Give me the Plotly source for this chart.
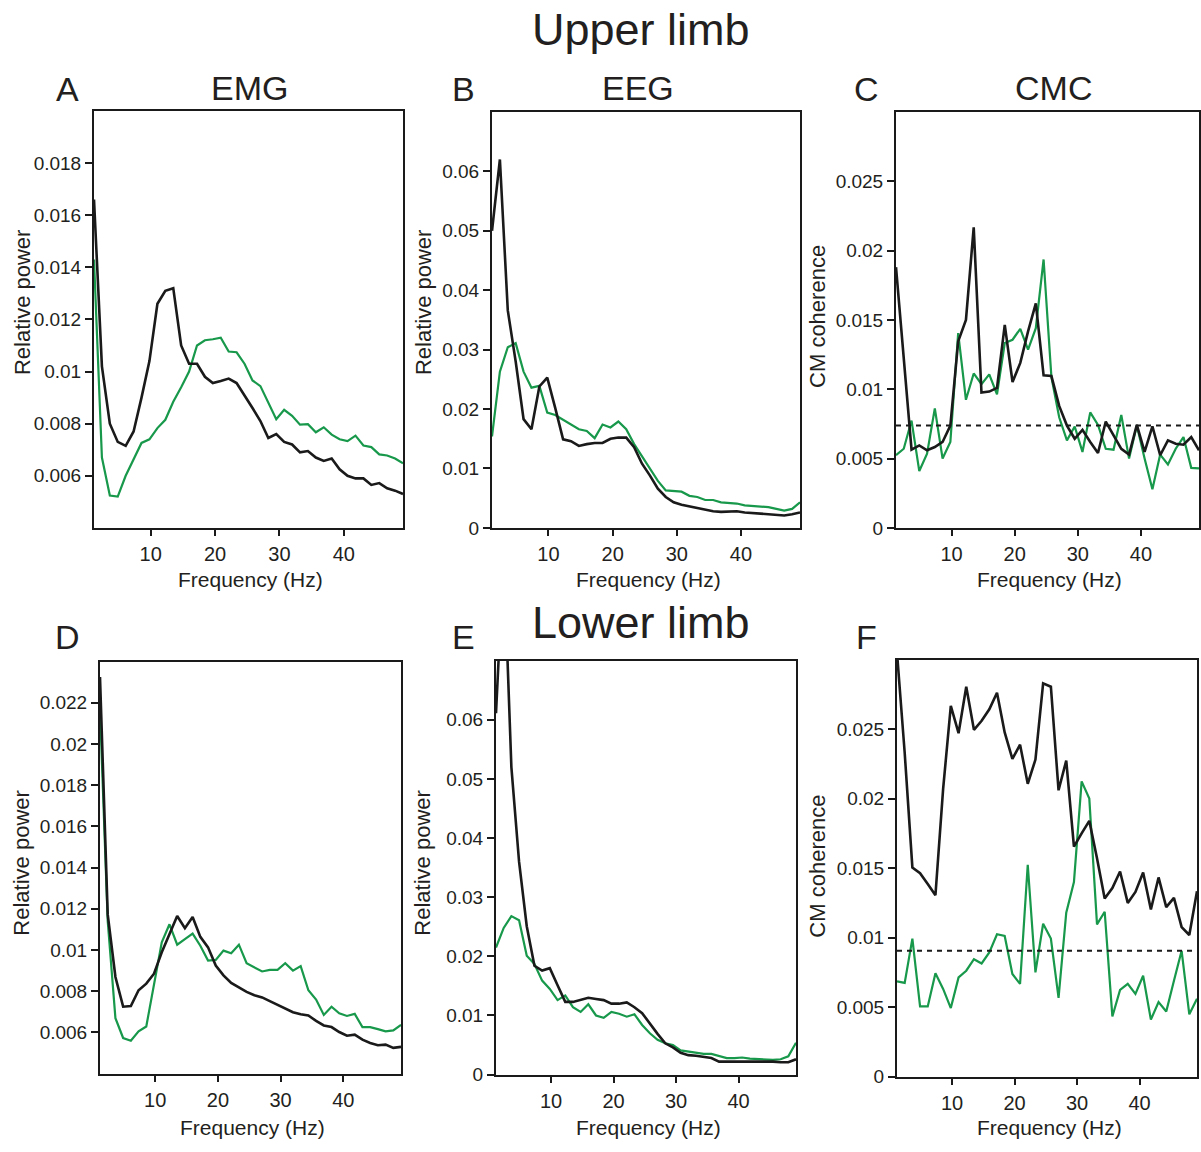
import plotly.graph_objects as go

W, H = 1201, 1152

freqs = [1.2, 2.43, 3.66, 4.89, 6.12, 7.35, 8.58, 9.81, 11.05, 12.28, 13.51, 14.74, 15.97, 17.2,
         18.43, 19.66, 20.89, 22.12, 23.35, 24.58, 25.82, 27.05, 28.28, 29.51, 30.74, 31.97, 33.2,
         34.43, 35.66, 36.89, 38.12, 39.35, 40.58, 41.82, 43.05, 44.28, 45.51, 46.74, 47.97, 49.2]

# Upper limb
emg_up_black = [0.0166, 0.0102, 0.0080, 0.0073, 0.00715, 0.0077, 0.0090, 0.0104, 0.0126, 0.0131,
                0.0132, 0.0110, 0.0103, 0.0103, 0.0098, 0.00956, 0.00964, 0.00973, 0.00956, 0.0091,
                0.0086, 0.0081, 0.00745, 0.0076, 0.0073, 0.0072, 0.0069, 0.00695, 0.0067, 0.00657,
                0.00666, 0.00625, 0.0060, 0.0059, 0.0059, 0.00565, 0.00572, 0.00552, 0.00543, 0.0053]
emg_up_green = [0.0143, 0.0067, 0.00524, 0.0052, 0.0060, 0.00663, 0.00726, 0.0074, 0.00783, 0.00815,
                0.00884, 0.0094, 0.0100, 0.0110, 0.0112, 0.01124, 0.0113, 0.01077, 0.01074, 0.0103,
                0.00966, 0.00944, 0.00878, 0.00817, 0.00853, 0.0083, 0.00796, 0.00798, 0.00767, 0.00786,
                0.00758, 0.0074, 0.00733, 0.00754, 0.00716, 0.0071, 0.00682, 0.00678, 0.00666, 0.00648]
eeg_up_black = [0.050, 0.062, 0.0366, 0.028, 0.0183, 0.0166, 0.0238, 0.0253, 0.0202, 0.0149,
                0.0146, 0.0138, 0.0141, 0.0143, 0.0143, 0.0150, 0.0152, 0.0152, 0.0136, 0.0108,
                0.0088, 0.0066, 0.0052, 0.0043, 0.0039, 0.0036, 0.0033, 0.0031, 0.0028, 0.0027,
                0.0027, 0.0028, 0.0026, 0.0025, 0.0024, 0.0024, 0.0023, 0.0021, 0.0023, 0.0026]
eeg_up_green = [0.0154, 0.0263, 0.0304, 0.0311, 0.0263, 0.0236, 0.0239, 0.0194, 0.019, 0.0182,
                0.0174, 0.0166, 0.0163, 0.0151, 0.0174, 0.0169, 0.0179, 0.0166, 0.0141, 0.0121,
                0.0099, 0.0079, 0.0063, 0.0062, 0.0061, 0.0054, 0.0052, 0.0047, 0.0047, 0.0043,
                0.0042, 0.0041, 0.0038, 0.0037, 0.0035, 0.0035, 0.0032, 0.0029, 0.0032, 0.0043]
cmc_up_black = [0.0188, 0.0119, 0.00564, 0.00595, 0.0056, 0.00583, 0.0062, 0.00738, 0.01345, 0.015,
                0.02167, 0.00976, 0.00983, 0.0101, 0.01464, 0.01052, 0.0119, 0.01417, 0.0162, 0.011,
                0.01095, 0.0088, 0.00738, 0.00643, 0.00707, 0.0062, 0.0054, 0.00767, 0.00667, 0.0057,
                0.00529, 0.00743, 0.00548, 0.00733, 0.00524, 0.00631, 0.00607, 0.006, 0.00655, 0.0056]
cmc_up_green = [0.00524, 0.00571, 0.00774, 0.0041, 0.00536, 0.00862, 0.005, 0.00619, 0.01405, 0.00924,
                0.01114, 0.01036, 0.01107, 0.00964, 0.01333, 0.01357, 0.01436, 0.01286, 0.0144, 0.01936,
                0.01088, 0.00798, 0.00631, 0.00731, 0.00548, 0.00833, 0.00743, 0.00571, 0.00564, 0.00814,
                0.005, 0.00738, 0.005, 0.00279, 0.00529, 0.00457, 0.00571, 0.00655, 0.00433, 0.00429]
cmc_up_sig = 0.00738

# Lower limb
emg_lo_black = [0.02325, 0.01173, 0.00869, 0.00725, 0.00728, 0.00805, 0.00837, 0.00885, 0.00989, 0.01077,
                0.01165, 0.01106, 0.0116, 0.01064, 0.01013, 0.00925, 0.00877, 0.0084, 0.0082, 0.00797,
                0.00781, 0.0077, 0.00752, 0.00733, 0.00717, 0.00698, 0.00688, 0.00682, 0.00656, 0.00634,
                0.00626, 0.00602, 0.00584, 0.00589, 0.00565, 0.00549, 0.00538, 0.00541, 0.00525, 0.0053]
emg_lo_green = [0.0217, 0.01141, 0.00669, 0.00573, 0.0056, 0.00605, 0.00629, 0.00829, 0.01037, 0.01125,
                0.01026, 0.01053, 0.0108, 0.01021, 0.00949, 0.00952, 0.00997, 0.00984, 0.01026, 0.00936,
                0.00917, 0.00896, 0.00904, 0.00904, 0.00936, 0.009, 0.00922, 0.00805, 0.0076, 0.00685,
                0.00725, 0.00693, 0.0068, 0.0069, 0.00626, 0.00626, 0.00616, 0.00605, 0.0061, 0.00637]
eeg_lo_black = [0.0611, 0.088, 0.052, 0.036, 0.0251, 0.0184, 0.0176, 0.018, 0.0151, 0.0123,
                0.0123, 0.0126, 0.013, 0.0128, 0.0126, 0.012, 0.012, 0.0122, 0.0114, 0.0104,
                0.0086, 0.0069, 0.0053, 0.0046, 0.0037, 0.0033, 0.0032, 0.003, 0.0028, 0.0022,
                0.0022, 0.0022, 0.0023, 0.0022, 0.0023, 0.0022, 0.0022, 0.0021, 0.0021, 0.0026]
eeg_lo_green = [0.0215, 0.0248, 0.0268, 0.0261, 0.0201, 0.0187, 0.0159, 0.0145, 0.0126, 0.0134,
                0.0114, 0.0106, 0.0119, 0.0100, 0.0096, 0.0106, 0.0103, 0.0098, 0.0102, 0.0084,
                0.0070, 0.0059, 0.0053, 0.0050, 0.0041, 0.0039, 0.0038, 0.0035, 0.0035, 0.0032,
                0.0028, 0.0028, 0.0029, 0.0027, 0.0026, 0.0026, 0.0025, 0.0026, 0.0031, 0.0054]
cmc_lo_black = [0.0305, 0.0233, 0.01505, 0.01464, 0.01386, 0.01305, 0.0207, 0.02667, 0.02471, 0.02805,
                0.02495, 0.0256, 0.02643, 0.02762, 0.02476, 0.02286, 0.02388, 0.02107, 0.02281, 0.02829,
                0.02805, 0.0206, 0.02274, 0.01655, 0.0175, 0.0184, 0.01571, 0.01281, 0.01357, 0.01476,
                0.0125, 0.01329, 0.01469, 0.01202, 0.01433, 0.01219, 0.01286, 0.01076, 0.01019, 0.01333]
cmc_lo_green = [0.00686, 0.00674, 0.00993, 0.00505, 0.00505, 0.00743, 0.00631, 0.00493, 0.00714, 0.00762,
                0.00845, 0.00814, 0.00893, 0.01024, 0.01012, 0.00738, 0.00667, 0.01524, 0.0075, 0.011,
                0.00993, 0.00567, 0.01179, 0.014, 0.02124, 0.02, 0.01095, 0.01186, 0.00433, 0.00624,
                0.00667, 0.00595, 0.00726, 0.0041, 0.00536, 0.00469, 0.0069, 0.00905, 0.00448, 0.0056]
cmc_lo_sig = 0.00905

x_ticks = [10, 20, 30, 40]
x_ticktext = ["10", "20", "30", "40"]
emg_up_ticks = [0.006, 0.008, 0.010, 0.012, 0.014, 0.016, 0.018]
emg_up_ticktext = ["0.006", "0.008", "0.01", "0.012", "0.014", "0.016", "0.018"]
emg_lo_ticks = [0.006, 0.008, 0.010, 0.012, 0.014, 0.016, 0.018, 0.020, 0.022]
emg_lo_ticktext = ["0.006", "0.008", "0.01", "0.012", "0.014", "0.016", "0.018", "0.02", "0.022"]
eeg_ticks = [0, 0.01, 0.02, 0.03, 0.04, 0.05, 0.06]
eeg_ticktext = ["0", "0.01", "0.02", "0.03", "0.04", "0.05", "0.06"]
cmc_ticks = [0, 0.005, 0.010, 0.015, 0.020, 0.025]
cmc_ticktext = ["0", "0.005", "0.01", "0.015", "0.02", "0.025"]

BLACK = "#1a1a1a"
GREEN = "#17984a"
TXT = "#231f20"
FONT = "Liberation Sans, Arial, sans-serif"

# panel boxes in pixels: left, right, top, bottom
panels = [
    dict(box=(94, 403, 112, 533), black=emg_up_black, green=emg_up_green, yr=[0.004, 0.020],
         tv=emg_up_ticks, tt=emg_up_ticktext, ylab="Relative power", sig=None,
         ylab_xy=(22, 305), letter="A", letter_xy=(67, 90)),
    dict(box=(492, 800, 113, 533), black=eeg_up_black, green=eeg_up_green, yr=[0, 0.070],
         tv=eeg_ticks, tt=eeg_ticktext, ylab="Relative power", sig=None,
         ylab_xy=(423, 305), letter="B", letter_xy=(463, 90)),
    dict(box=(896, 1199, 113, 533), black=cmc_up_black, green=cmc_up_green, yr=[0, 0.030],
         tv=cmc_ticks, tt=cmc_ticktext, ylab="CM coherence", sig=cmc_up_sig,
         ylab_xy=(818, 320), letter="C", letter_xy=(866, 90)),
    dict(box=(100, 401, 668, 1084), black=emg_lo_black, green=emg_lo_green, yr=[0.004, 0.024],
         tv=emg_lo_ticks, tt=emg_lo_ticktext, ylab="Relative power", sig=None,
         ylab_xy=(22, 871), letter="D", letter_xy=(67, 643)),
    dict(box=(496, 796, 667, 1085), black=eeg_lo_black, green=eeg_lo_green, yr=[0, 0.070],
         tv=eeg_ticks, tt=eeg_ticktext, ylab="Relative power", sig=None,
         ylab_xy=(423, 871), letter="E", letter_xy=(463, 643)),
    dict(box=(897, 1197, 666, 1087), black=cmc_lo_black, green=cmc_lo_green, yr=[0, 0.030],
         tv=cmc_ticks, tt=cmc_ticktext, ylab="CM coherence", sig=cmc_lo_sig,
         ylab_xy=(818, 875), letter="F", letter_xy=(866, 643)),
]


def px(x):
    return x / W


def py(y):
    return 1 - y / H


fig = go.Figure()
annotations = []
layout = {}

for i, p in enumerate(panels):
    n = i + 1
    xa = "x" if n == 1 else f"x{n}"
    ya = "y" if n == 1 else f"y{n}"
    l, r, t, b = p["box"]
    fig.add_trace(go.Scatter(x=freqs, y=p["green"], mode="lines", xaxis=xa, yaxis=ya,
                             line=dict(color=GREEN, width=2.2), showlegend=False, hoverinfo="skip"))
    fig.add_trace(go.Scatter(x=freqs, y=p["black"], mode="lines", xaxis=xa, yaxis=ya,
                             line=dict(color=BLACK, width=2.6), showlegend=False, hoverinfo="skip"))
    if p["sig"] is not None:
        fig.add_trace(go.Scatter(x=[freqs[0], freqs[-1]], y=[p["sig"], p["sig"]], mode="lines",
                                 xaxis=xa, yaxis=ya, line=dict(color=BLACK, width=2, dash="5px,5px"),
                                 showlegend=False, hoverinfo="skip"))
    xkey = "xaxis" if n == 1 else f"xaxis{n}"
    ykey = "yaxis" if n == 1 else f"yaxis{n}"
    layout[xkey] = dict(domain=[px(l), px(r)], anchor=ya, range=[freqs[0], freqs[-1]],
                        showline=True, mirror=True, linecolor=BLACK, linewidth=2,
                        ticks="outside", ticklen=6, tickwidth=2, tickcolor=BLACK,
                        tickvals=x_ticks, ticktext=x_ticktext, showgrid=False, zeroline=False,
                        ticklabelstandoff=1,
                        tickfont=dict(family=FONT, size=20, color=TXT))
    layout[ykey] = dict(domain=[py(b), py(t)], anchor=xa, range=p["yr"],
                        showline=True, mirror=True, linecolor=BLACK, linewidth=2,
                        ticks="outside", ticklen=7, tickwidth=2, tickcolor=BLACK,
                        tickvals=p["tv"], ticktext=p["tt"], showgrid=False, zeroline=False,
                        tickfont=dict(family=FONT, size=19, color=TXT))
    # y-axis title
    annotations.append(dict(text=p["ylab"], x=px(p["ylab_xy"][0]), y=py(p["ylab_xy"][1]),
                            xref="paper", yref="paper", showarrow=False, textangle=-90,
                            xanchor="center", yanchor="middle",
                            font=dict(family=FONT, size=22, color=TXT)))
    # x-axis title
    xt_y = 585 if t < 300 else 1138
    annotations.append(dict(text="Frequency (Hz)", x=px((l + r) / 2 + 2), y=py(xt_y),
                            xref="paper", yref="paper", showarrow=False,
                            xanchor="center", yanchor="middle", borderpad=0,
                            font=dict(family=FONT, size=21, color=TXT)))
    # panel letter
    annotations.append(dict(text=p["letter"], x=px(p["letter_xy"][0]), y=py(p["letter_xy"][1]),
                            xref="paper", yref="paper", showarrow=False,
                            xanchor="center", yanchor="middle",
                            font=dict(family=FONT, size=34, color=TXT)))

# column headers
for txt, cx in [("EMG", 250), ("EEG", 638), ("CMC", 1053)]:
    annotations.append(dict(text=txt, x=px(cx), y=py(89), xref="paper", yref="paper",
                            showarrow=False, xanchor="center", yanchor="middle",
                            font=dict(family=FONT, size=34, color=TXT)))
# main titles
for txt, cy in [("Upper limb", 30), ("Lower limb", 628)]:
    annotations.append(dict(text=txt, x=px(641), y=py(cy), xref="paper", yref="paper",
                            showarrow=False, xanchor="center", yanchor="middle",
                            font=dict(family=FONT, size=45, color=TXT)))

fig.update_layout(width=W, height=H, autosize=False, margin=dict(l=0, r=0, t=0, b=0),
                  paper_bgcolor="white", plot_bgcolor="white",
                  annotations=annotations, **layout)

fig.write_html("out.html", config={"responsive": False})
